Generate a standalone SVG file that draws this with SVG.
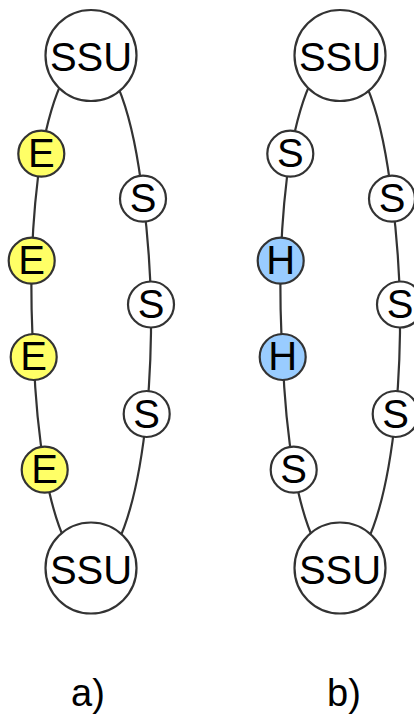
<svg xmlns="http://www.w3.org/2000/svg" width="414" height="715" viewBox="0 0 414 715">
<style>
.n circle{stroke:#333;stroke-width:2.2;fill:#fff}
.n.e circle{fill:#ffff66}
.n.h circle{fill:#99ccff}
.n text,.lbl{font-family:"Liberation Sans",Arial,sans-serif;font-size:40px;fill:#000;text-anchor:middle}
.lbl{font-size:38px}
.c path{fill:none;stroke:#333;stroke-width:2.2}
</style>
<rect width="414" height="715" fill="#fff"/>
<g id="connectors" class="c">
<path d="M91 55.5 A60 256.5 0 0 0 41.3 153.7"/>
<path d="M41.3 153.7 A60 256.5 0 0 0 31.7 260.7"/>
<path d="M31.7 260.7 A60 256.5 0 0 0 33.7 357"/>
<path d="M33.7 357 A60 256.5 0 0 0 44.7 469.7"/>
<path d="M44.7 469.7 A60 256.5 0 0 0 91 568"/>
<path d="M91 55.5 A60 256.5 0 0 1 143 198.7"/>
<path d="M143 198.7 A60 256.5 0 0 1 151 304.5"/>
<path d="M151 304.5 A60 256.5 0 0 1 146.7 414"/>
<path d="M146.7 414 A60 256.5 0 0 1 91 568"/>
<path d="M340 55.5 A60 256.5 0 0 0 290.3 153.7"/>
<path d="M290.3 153.7 A60 256.5 0 0 0 280.7 260.7"/>
<path d="M280.7 260.7 A60 256.5 0 0 0 282.7 357"/>
<path d="M282.7 357 A60 256.5 0 0 0 293.7 469.7"/>
<path d="M293.7 469.7 A60 256.5 0 0 0 340 568"/>
<path d="M340 55.5 A60 256.5 0 0 1 392 198.7"/>
<path d="M392 198.7 A60 256.5 0 0 1 400 304.5"/>
<path d="M400 304.5 A60 256.5 0 0 1 395.7 414"/>
<path d="M395.7 414 A60 256.5 0 0 1 340 568"/>
</g>
<g id="a_ssu_top" class="n"><circle cx="91" cy="55.5" r="45.5"/><text x="91" y="71">SSU</text></g>
<g id="a_e1" class="n e"><circle cx="41.3" cy="153.7" r="23"/><text x="41.3" y="167">E</text></g>
<g id="a_e2" class="n e"><circle cx="31.7" cy="260.7" r="23"/><text x="31.7" y="274">E</text></g>
<g id="a_e3" class="n e"><circle cx="33.7" cy="357" r="23"/><text x="33.7" y="370.3">E</text></g>
<g id="a_e4" class="n e"><circle cx="44.7" cy="469.7" r="23"/><text x="44.7" y="483">E</text></g>
<g id="a_s1" class="n"><circle cx="143" cy="198.7" r="23"/><text x="143" y="212.3">S</text></g>
<g id="a_s2" class="n"><circle cx="151" cy="304.5" r="23"/><text x="151" y="318">S</text></g>
<g id="a_s3" class="n"><circle cx="146.7" cy="414" r="23"/><text x="146.7" y="427.5">S</text></g>
<g id="a_ssu_bottom" class="n"><circle cx="91" cy="568" r="45.5"/><text x="91" y="583.5">SSU</text></g>
<g id="b_ssu_top" class="n"><circle cx="340" cy="55.5" r="45.5"/><text x="340" y="71">SSU</text></g>
<g id="b_s1" class="n"><circle cx="290.3" cy="153.7" r="23"/><text x="290.3" y="167.3">S</text></g>
<g id="b_h1" class="n h"><circle cx="280.7" cy="260.7" r="23"/><text x="280.7" y="274">H</text></g>
<g id="b_h2" class="n h"><circle cx="282.7" cy="357" r="23"/><text x="282.7" y="370.3">H</text></g>
<g id="b_s4" class="n"><circle cx="293.7" cy="469.7" r="23"/><text x="293.7" y="483.3">S</text></g>
<g id="b_s5" class="n"><circle cx="392" cy="198.7" r="23"/><text x="392" y="212.3">S</text></g>
<g id="b_s6" class="n"><circle cx="400" cy="304.5" r="23"/><text x="400" y="318">S</text></g>
<g id="b_s7" class="n"><circle cx="395.7" cy="414" r="23"/><text x="395.7" y="427.5">S</text></g>
<g id="b_ssu_bottom" class="n"><circle cx="340" cy="568" r="45.5"/><text x="340" y="583.5">SSU</text></g>
<text class="lbl" x="88" y="706">a)</text>
<text class="lbl" x="344" y="706">b)</text>
</svg>
